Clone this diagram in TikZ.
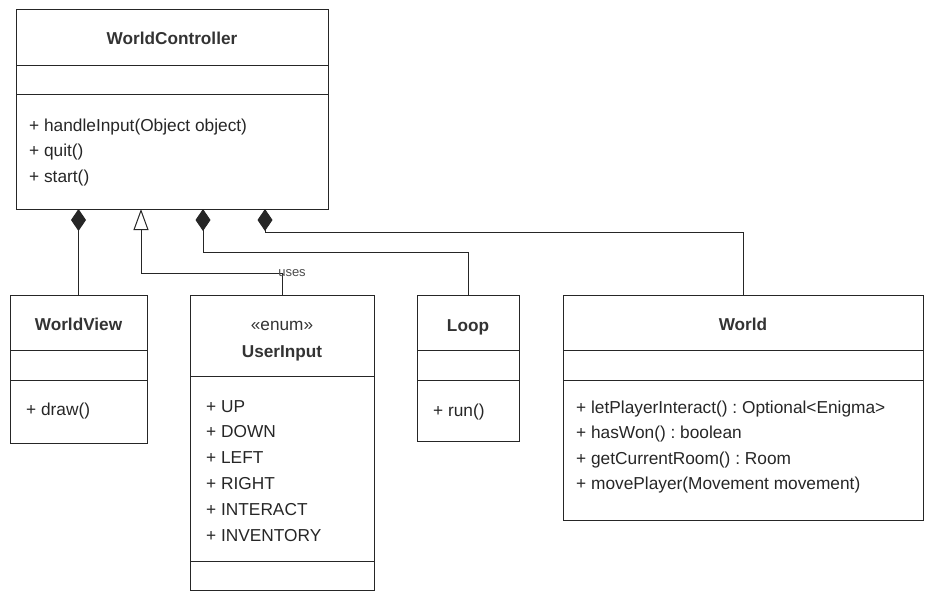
\documentclass[tikz,border=0pt]{standalone}
\usepackage{fontspec}
\setmainfont{Liberation Sans}
\usetikzlibrary{arrows.meta,positioning}
\frenchspacing

\tikzset{
  cls/.style={draw=black!85,line width=1pt,anchor=north west,inner sep=0pt,outer sep=0pt},
  divider/.style={draw=black!85,line width=1pt},
  ctitle/.style={anchor=base,inner sep=0pt,text=black!80,font=\bfseries\fontsize{17.2}{20}\selectfont},
  stereo/.style={anchor=base,inner sep=0pt,text=black!80,font=\fontsize{17.2}{20}\selectfont},
  member/.style={anchor=base west,inner sep=0pt,text=black!85,font=\fontsize{17.3}{20}\selectfont},
  usesl/.style={inner sep=0pt,text=black!70,font=\fontsize{13}{15}\selectfont},
  link/.style={draw=black!85,line width=1pt},
  comp/.style={link,{Diamond[length=22pt,width=15pt]}-},
  gen/.style={link,{Triangle[open,length=21pt,width=15pt]}-},
}

\begin{document}
\begin{tikzpicture}[x=1pt,y=-1pt]
\useasboundingbox (0,0) rectangle (936,602);

\node[cls,minimum width=312pt,minimum height=199pt] (wc) at (16,10) {};
\node[cls,minimum width=137pt,minimum height=148pt] (wv) at (10,295) {};
\node[cls,minimum width=184pt,minimum height=295pt] (ui) at (190,295) {};
\node[cls,minimum width=102pt,minimum height=146pt] (loop) at (417,295) {};
\node[cls,minimum width=360pt,minimum height=225pt] (world) at (563,295) {};

\foreach \c/\a in {wc/55,wc/84,wv/55,wv/85,loop/55,loop/85,world/55,world/85,ui/81,ui/266}
  \draw[divider] ([yshift=-\a pt]\c.north west) -- ([yshift=-\a pt]\c.north east);

\node[ctitle] (wc-t) at ([yshift=-35pt]wc.north) {WorldController};
\node[ctitle] (wv-t) at ([yshift=-35pt]wv.north) {WorldView};
\node[stereo] (ui-s) at ([yshift=-35pt]ui.north) {«enum»};
\node[ctitle] (ui-t) at ([yshift=-62pt]ui.north) {UserInput};
\node[ctitle] (loop-t) at ([yshift=-36pt]loop.north) {Loop};
\node[ctitle] (world-t) at ([yshift=-35pt]world.north) {World};

\foreach \m [count=\i from 0] in {+ handleInput(Object object),+ quit(),+ start()}
  \node[member] (wc-m\i) at ([xshift=13pt,yshift=-121pt-25.5pt*\i]wc.north west) {\m};
\node[member] (wv-m0) at ([xshift=16pt,yshift=-120pt]wv.north west) {+ draw()};
\foreach \m [count=\i from 0] in {+ UP,+ DOWN,+ LEFT,+ RIGHT,+ INTERACT,+ INVENTORY}
  \node[member] (ui-m\i) at ([xshift=16pt,yshift=-117pt-25.8pt*\i]ui.north west) {\m};
\node[member] (loop-m0) at ([xshift=16pt,yshift=-121pt]loop.north west) {+ run()};
\foreach \m [count=\i from 0] in {+ letPlayerInteract() : Optional<Enigma>,+ hasWon() : boolean,+ getCurrentRoom() : Room,+ movePlayer(Movement movement)}
  \node[member] (world-m\i) at ([xshift=13pt,yshift=-118pt-25.5pt*\i]world.north west) {\m};

\draw[comp] (wc.south -| wv.north) -- (wv.north);
\draw[gen] ([xshift=125pt]wc.south west) |- ([yshift=22pt]ui.north)
  node[usesl,xshift=10pt,yshift=-0.5pt] (uses) {uses} -- (ui.north);
\draw[comp] ([xshift=187pt]wc.south west) |- ([yshift=43pt]loop.north) -- (loop.north);
\draw[comp] ([xshift=249pt]wc.south west) |- ([yshift=63pt]world.north) -- (world.north);
\end{tikzpicture}
\end{document}
